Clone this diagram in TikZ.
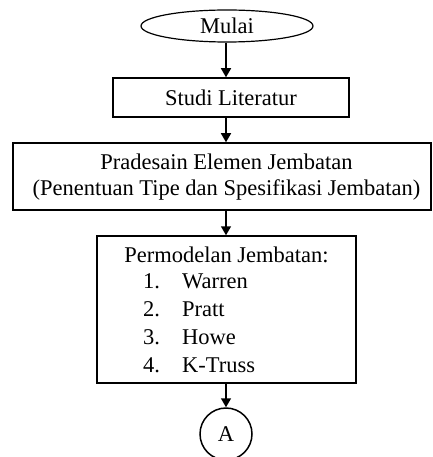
\documentclass[tikz,border=0pt]{standalone}
\usepackage{fontspec}
\setmainfont{Liberation Serif}
\usetikzlibrary{arrows.meta,shapes.geometric}
\begin{document}
\begin{tikzpicture}[x=1pt,y=-1pt,
  every node/.style={font=\fontsize{22.5}{25.5}\selectfont, inner sep=0pt},
  boxn/.style={draw, line width=1.5pt, rectangle},
  arr/.style={line width=1.5pt, -{Triangle[width=10pt,length=9pt]}},
  txt/.style={anchor=base west}]
\useasboundingbox (0,0) rectangle (432,457);
\clip (0,0) rectangle (432,457);
\node[draw, line width=1.2pt, ellipse, minimum width=172pt, minimum height=32pt] (mulai) at (227,26) {Mulai};
\node[boxn, minimum width=236pt, minimum height=39pt] (studi) at (231,97.5) {Studi Literatur};
\node[boxn, minimum width=418pt, minimum height=67pt] (pra) at (222,176.5) {};
\node[align=center] (pratext) at (226.5,177) {Pradesain Elemen Jembatan\\(Penentuan Tipe dan Spesifikasi Jembatan)};
\node[boxn, minimum width=259pt, minimum height=147pt] (model) at (226.5,309.5) {};
\node[anchor=base] (head) at (226.5,262) {Permodelan Jembatan:};
\node[txt] (n1) at (143,288) {1.};
\node[txt] (n2) at (143,316) {2.};
\node[txt] (n3) at (143,344) {3.};
\node[txt] (n4) at (143,372) {4.};
\node[txt] (i1) at (182,288) {Warren};
\node[txt] (i2) at (182,316) {Pratt};
\node[txt] (i3) at (182,344) {Howe};
\node[txt] (i4) at (182,372) {K-Truss};
\node[draw, line width=1.5pt, circle, minimum size=52pt] (a) at (226,434) {A};
\draw[arr] (mulai.south -| 226,0) -- (studi.north -| 226,0);
\draw[arr] (studi.south -| 226,0) -- (pra.north -| 226,0);
\draw[arr] (pra.south -| 226,0) -- (model.north -| 226,0);
\draw[arr] (model.south -| 226,0) -- (a.north);
\end{tikzpicture}
\end{document}
